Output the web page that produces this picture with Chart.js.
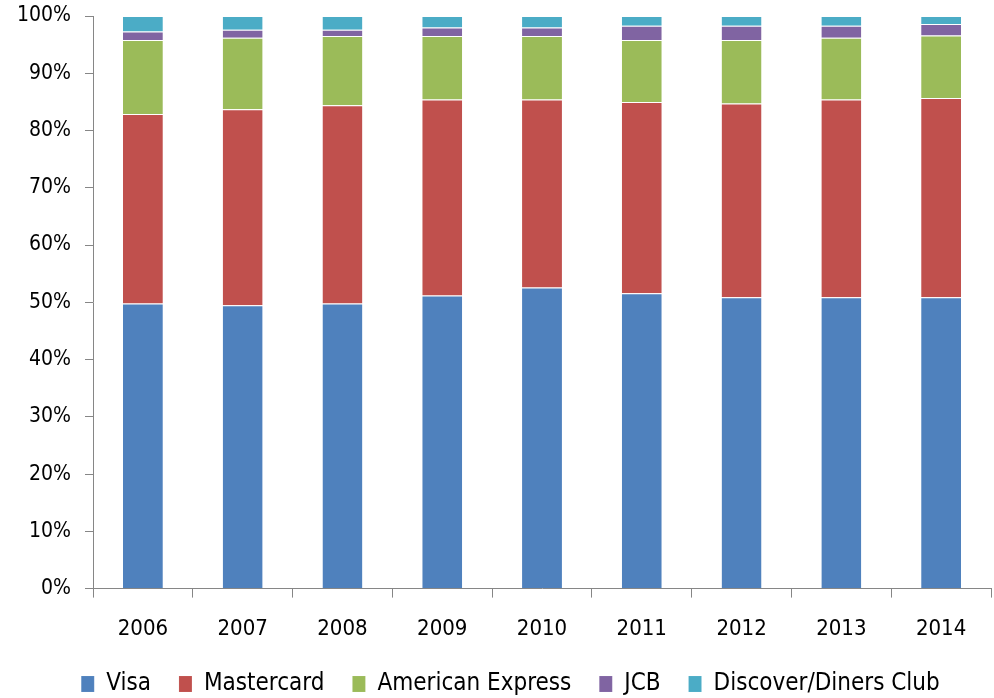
<!DOCTYPE html>
<html><head><meta charset="utf-8">
<script src="https://cdn.jsdelivr.net/npm/chart.js@4/dist/chart.umd.min.js"></script>
<style>html,body{margin:0;padding:0;background:#fff}#wrap{width:994px;height:698px;position:relative}</style>
</head><body><div id="wrap"><canvas id="c"></canvas></div>
<script>
const years = ['2006','2007','2008','2009','2010','2011','2012','2013','2014'];
const visa = [49.8,49.5,49.8,51.2,52.6,51.6,50.9,50.9,50.9];
const mastercard = [33.1,34.2,34.6,34.2,32.8,33.4,33.8,34.5,34.8];
const amex = [12.9,12.5,12.1,11.1,11.1,10.8,11.1,10.8,10.9];
const jcb = [1.5,1.4,1.1,1.5,1.5,2.5,2.5,2.1,2.0];
const discover = [2.7,2.4,2.4,2.0,2.0,1.7,1.7,1.7,1.4];
const seriesNames = ['Visa','Mastercard','American Express','JCB','Discover/Diners Club'];
const colors = ['#4F81BD','#C0504D','#9BBB59','#8064A2','#4BACC6'];
const FONT = "'DejaVu Sans Condensed', 'Liberation Sans Narrow', sans-serif";

const seriesData = [visa, mastercard, amex, jcb, discover];
const shiftLegend = {
  id: 'shiftLegend',
  afterLayout(chart) { const l = chart.legend; if (l) { l.left += 15; l.right += 15; } }
};
new Chart(document.getElementById('c'), {
  type: 'bar',
  data: {
    labels: years,
    datasets: seriesData.map((d,i)=>({
      label: seriesNames[i], data: d, backgroundColor: colors[i],
      borderColor: 'rgba(255,255,255,0.35)', borderWidth: {top:1,bottom:0,left:0,right:0},
      barPercentage: 0.4, categoryPercentage: 1.0
    }))
  },
  plugins: [shiftLegend],
  options: {
    responsive: true, maintainAspectRatio: false, animation: false,
    layout: {padding: {left: 0, right: 3, top: 16, bottom: -8}},
    plugins: {
      tooltip: {enabled: false},
      legend: {position: 'bottom', labels: {font: {family: FONT, size: 24}, color: '#000', boxWidth: 13, boxHeight: 16, padding: 28}}
    },
    scales: {
      x: {stacked: true,
        grid: {offset: true, drawOnChartArea: false, color: '#868686', tickLength: 9},
        border: {color: '#868686', width: 1},
        ticks: {font: {family: FONT, size: 22}, color: '#000', padding: 18},
        afterFit: s => { s.height = s.height - 16; }
      },
      y: {stacked: true, min: 0, max: 100,
        grid: {drawOnChartArea: false, color: '#868686', tickLength: 8},
        border: {color: '#868686', width: 1},
        ticks: {stepSize: 10, font: {family: FONT, size: 21}, color: '#000', padding: 14, callback: v => v + '%'},
        afterFit: s => { s.width = 93; s.paddingTop = 0; s.paddingBottom = 0; }
      }
    }
  }
});
</script></body></html>
